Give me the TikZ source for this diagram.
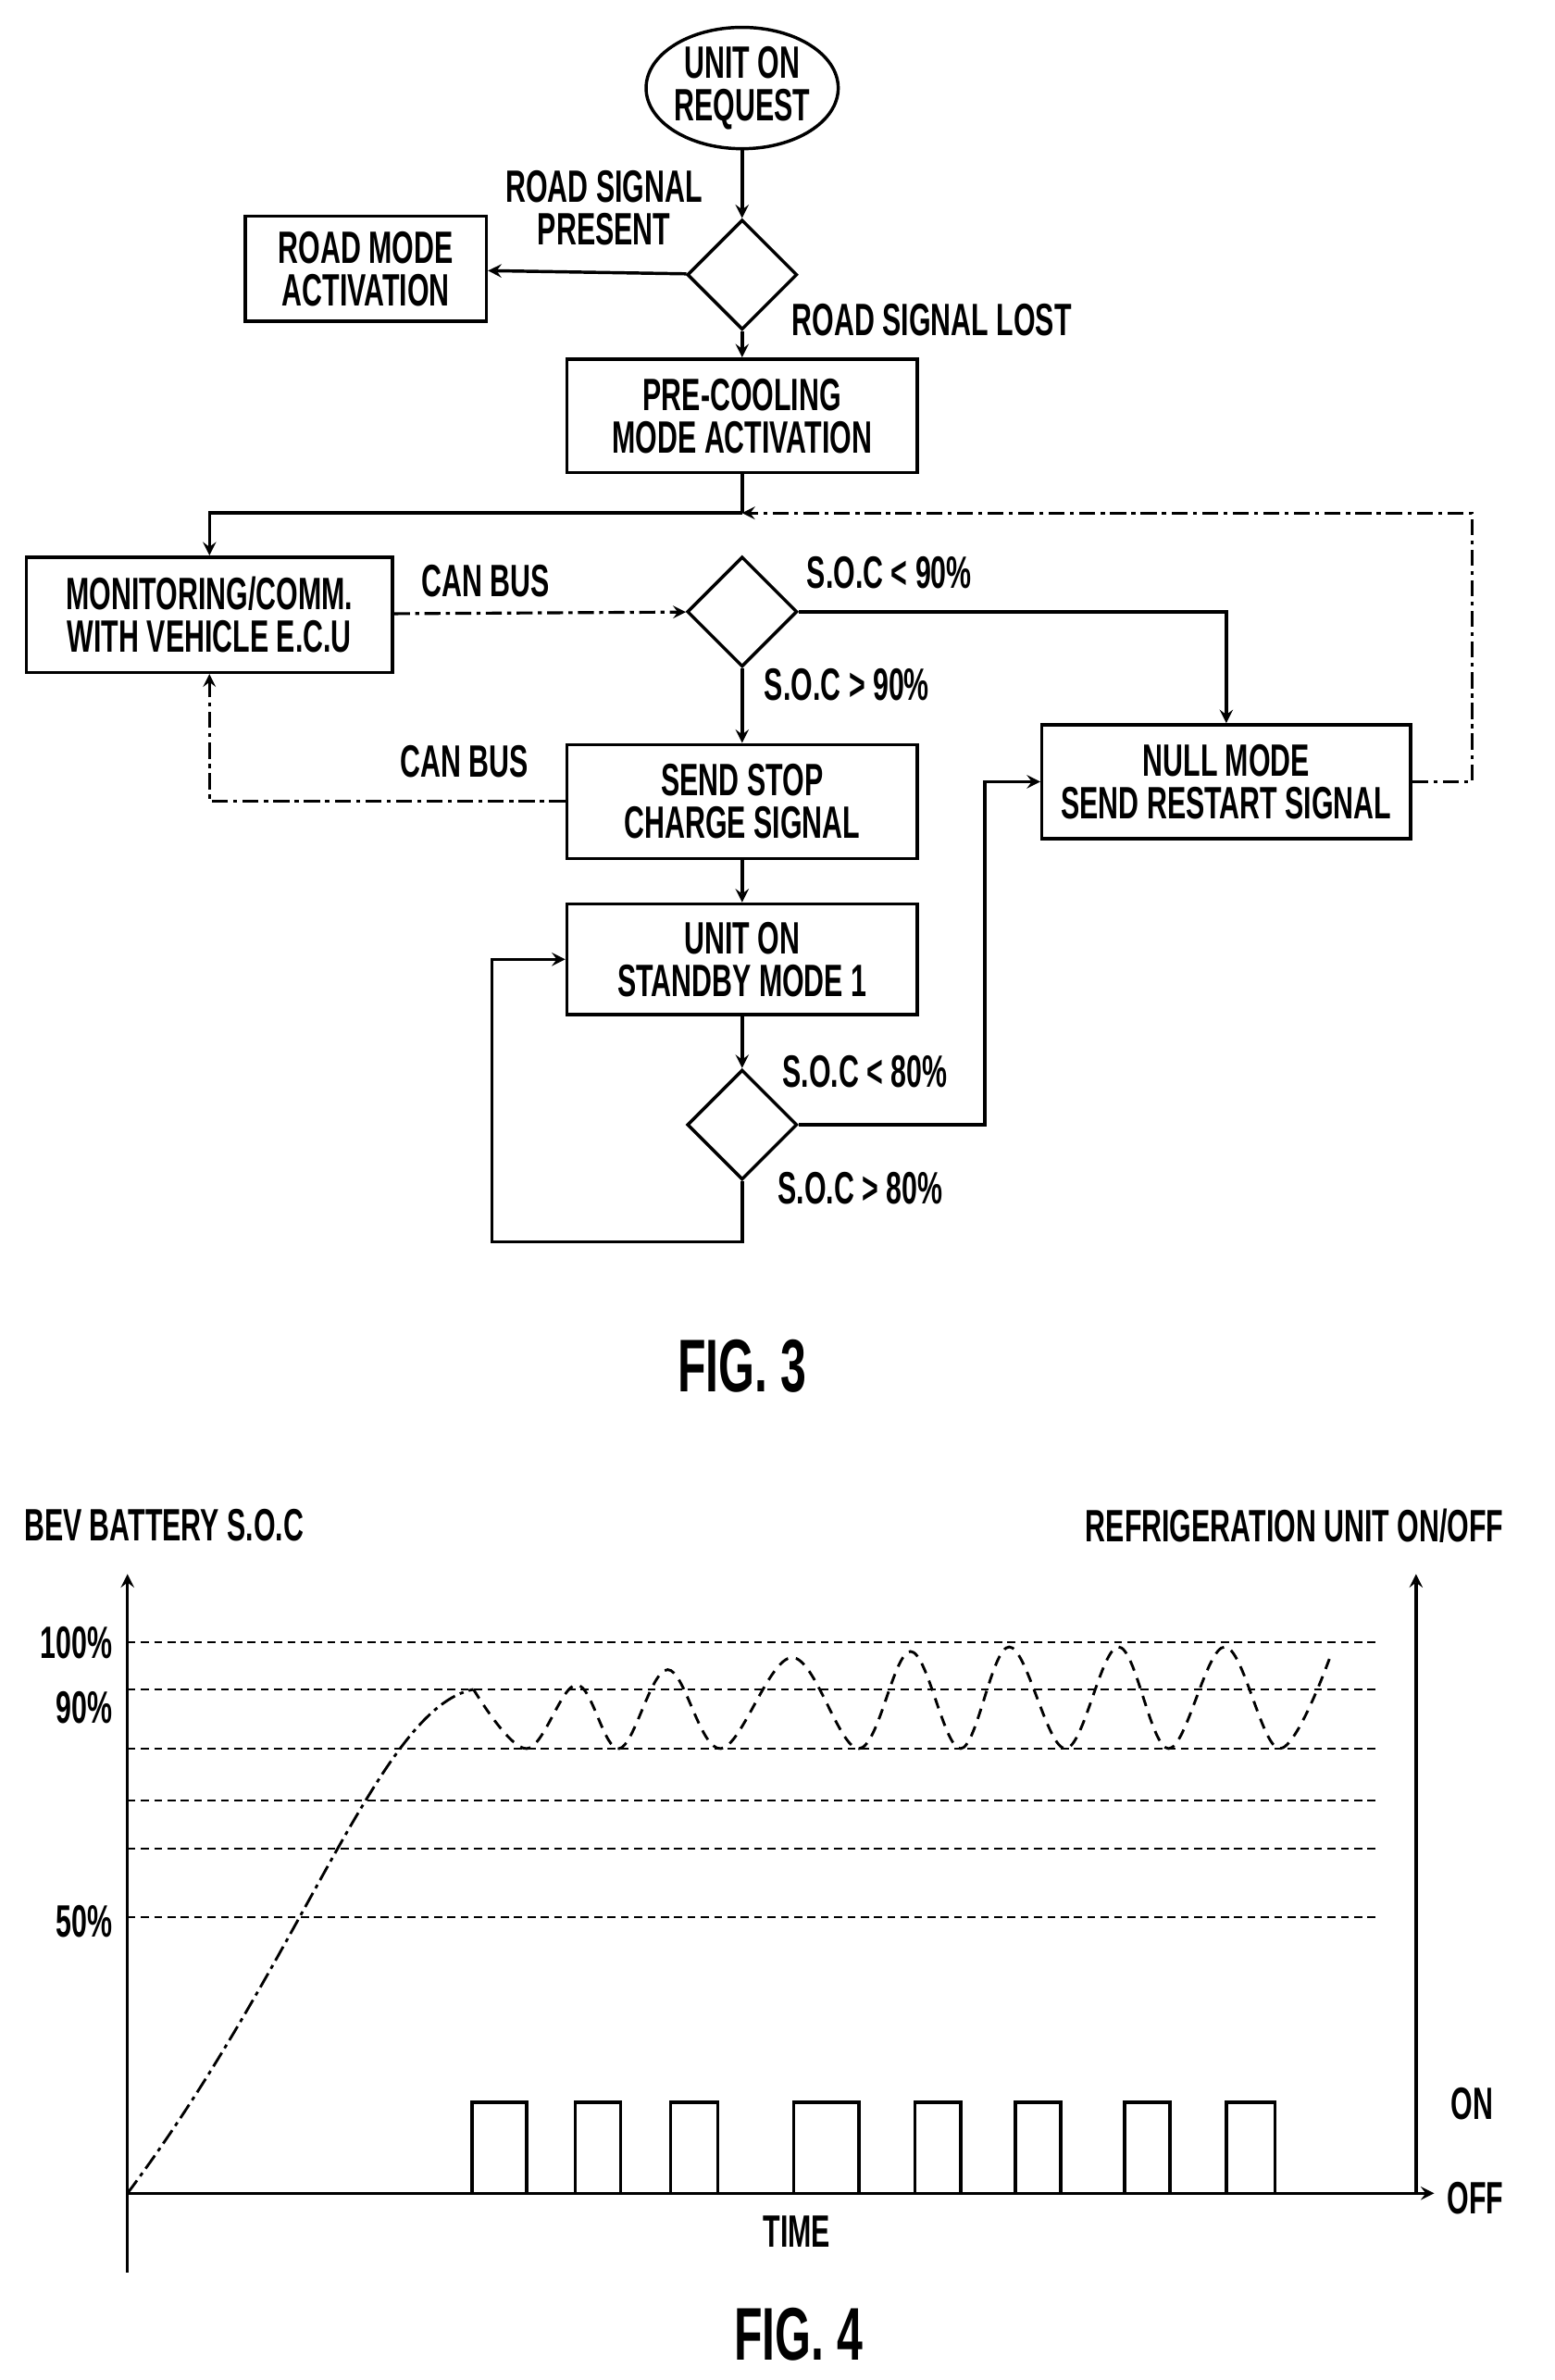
\documentclass[tikz,border=0pt]{standalone}
\usepackage{fontspec}
\setmainfont{Liberation Sans}[FakeStretch=0.62]
\usetikzlibrary{positioning,calc,arrows,shapes.geometric}
\tikzset{
  box/.style={draw, line width=1.2pt, align=center, inner sep=2pt},
  dec/.style={draw, diamond, line width=1.2pt, minimum width=1.45cm, minimum height=1.45cm, inner sep=0pt},
  lbl/.style={align=center, inner sep=1pt},
  flow/.style={line width=1.2pt, ->},
  sig/.style={line width=1.1pt, ->, dash pattern=on 6pt off 2pt on 1.5pt off 2pt},
  grid/.style={line width=0.7pt, dash pattern=on 3pt off 2pt},
}
\begin{document}
\begin{tikzpicture}[x=0.02cm, y=-0.02cm, >=stealth, font=\bfseries\fontsize{17}{16}\selectfont]
	\useasboundingbox (0,0) rectangle (1024,1568);
	% FIG. 3
	\node[draw, ellipse, line width=1.2pt, inner sep=0pt, minimum width=2.2cm, minimum height=1.6cm, align=center] (req) at (489,58) {UNIT ON\\REQUEST};
	\node[dec] (d1) at (489,181) {};
	\node[box, minimum width=3.18cm, minimum height=1.38cm] (road) at (241,177) {ROAD MODE\\ACTIVATION};
	\node[box, minimum width=4.62cm, minimum height=1.5cm] (pre) at (489,274) {PRE-COOLING\\MODE ACTIVATION};
	\node[box, minimum width=4.82cm, minimum height=1.52cm] (mon) at (138,405) {MONITORING/COMM.\\WITH VEHICLE E.C.U};
	\node[dec] (d2) at (489,403) {};
	\node[box, minimum width=4.62cm, minimum height=1.5cm] (stop) at (489,528) {SEND STOP\\CHARGE SIGNAL};
	\node[box, minimum width=4.86cm, minimum height=1.5cm] (null) at (808,515) {NULL MODE\\SEND RESTART SIGNAL};
	\node[box, minimum width=4.62cm, minimum height=1.46cm] (stby) at (489,632) {UNIT ON\\STANDBY MODE 1};
	\node[dec] (d3) at (489,741) {};
	\coordinate (split) at (489,338);
	\coordinate (back) at (970,338);

	\node[lbl] at (398,137) {ROAD SIGNAL\\PRESENT};
	\node[lbl] at (614,211) {ROAD SIGNAL LOST};
	\node[lbl] at (320,383) {CAN BUS};
	\node[lbl] at (586,377) {S.O.C < 90\%};
	\node[lbl] at (558,451) {S.O.C > 90\%};
	\node[lbl] at (306,502) {CAN BUS};
	\node[lbl] at (570,706) {S.O.C < 80\%};
	\node[lbl] at (567,783) {S.O.C > 80\%};
	\node[lbl, font=\bfseries\fontsize{28}{28}\selectfont] (fig3) at (489,900) {FIG. 3};

	\draw[flow] (req) -- (d1);
	\draw[flow] (d1) -- (road);
	\draw[flow] (d1) -- (pre);
	\draw[line width=1.2pt] (pre) -- (split);
	\draw[flow] (split) -| (mon);
	\draw[sig] (mon) -- (d2);
	\draw[flow] (d2) -| (null);
	\draw[flow] (d2) -- (stop);
	\draw[sig] (stop.west) -| (mon.south);
	\draw[sig] (null.east) -| (back) -- (split);
	\draw[flow] (stop) -- (stby);
	\draw[flow] (stby) -- (d3);
	\draw[flow] (d3.east) -| (649,515) -- (null.west);
	\draw[flow] (d3.south) |- (324,818) |- (stby.west);

	% FIG. 4
	\coordinate (o) at (84,1445);
	\coordinate (ybot) at (84,1497);
	\coordinate (ytop) at (84,1037);
	\coordinate (rbot) at (933,1445);
	\coordinate (rtop) at (933,1037);
	\coordinate (xend) at (945,1445);
	\draw[line width=1.2pt, ->] (ybot) -- (ytop);
	\draw[line width=1.2pt, ->] (rbot) -- (rtop);
	\draw[line width=1.2pt, ->] (o) -- (xend);
	\foreach \yy in {1082,1113,1152,1186,1218,1263}
		\draw[grid] (84,\yy) -- (907,\yy);
	\node[lbl] at (108,1005) {BEV BATTERY S.O.C};
	\node[lbl] at (853,1005) {REFRIGERATION UNIT ON/OFF};
	\node[lbl, anchor=east] at (76,1082) {100\%};
	\node[lbl, anchor=east] at (76,1125) {90\%};
	\node[lbl, anchor=east] at (76,1266) {50\%};
	\node[lbl] at (970,1386) {ON};
	\node[lbl] at (972,1448) {OFF};
	\node[lbl] at (525,1470) {TIME};
	\node[lbl, font=\bfseries\fontsize{28}{28}\selectfont] (fig4) at (526,1538) {FIG. 4};

	\foreach \a/\b in {311/347,379/409,442/473,523/566,603/633,669/699,741/771,808/840}
		\draw[line width=1.2pt] (\a,1445) -- (\a,1385) -- (\b,1385) -- (\b,1445);

	\draw[line width=1pt, dash pattern=on 6pt off 2pt on 1.5pt off 2pt] (o) .. controls (200,1290) and (250,1125) .. (312,1113);
	\draw[line width=1pt, dash pattern=on 4pt off 3pt] plot[smooth, tension=0.6] coordinates {(312,1113) (347,1152) (380,1110) (408,1152) (440,1100) (475,1152) (522,1092) (566,1152) (600,1088) (633,1152) (665,1085) (702,1152) (737,1085) (770,1152) (807,1085) (843,1152) (877,1090)};
\end{tikzpicture}
\end{document}
